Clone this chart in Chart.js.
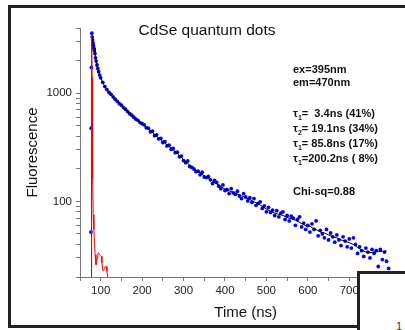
<!DOCTYPE html>
<html><head><meta charset="utf-8">
<script src="https://cdn.jsdelivr.net/npm/chart.js@4.4.1/dist/chart.umd.min.js"></script>
<style>
html,body{margin:0;padding:0;background:#fff;}
#wrap{position:relative;width:405px;height:330px;overflow:hidden;background:#fff;font-family:'Liberation Sans',Arial,sans-serif;}
#frame{position:absolute;left:8px;top:5px;width:500px;height:317px;border:3px solid #222;}
#chart{position:absolute;left:0;top:0;}
.t{position:absolute;white-space:pre;color:#111;}
#title{left:0;width:414px;top:21px;text-align:center;font-size:15.5px;line-height:18px;}
.ann{left:293px;font-size:11px;font-weight:bold;line-height:13px;}
.ann sub{font-size:7px;line-height:0;vertical-align:-3px;}
#box{position:absolute;left:357px;top:271px;width:100px;height:100px;border-left:3px solid #222;border-top:3px solid #222;background:#fff;}
#one{left:396px;top:320px;font-size:11px;color:#333;}
</style></head>
<body>
<div id="wrap">
  <div id="frame"></div>
  <canvas id="chart" width="440" height="330"></canvas>
  <div class="t" id="title">CdSe quantum dots</div>
  <div class="t ann" style="top:63px">ex=395nm</div>
  <div class="t ann" style="top:76px">em=470nm</div>
  <div class="t ann" style="top:107px">τ<sub>1</sub>=  3.4ns (41%)</div>
  <div class="t ann" style="top:122px">τ<sub>2</sub>= 19.1ns (34%)</div>
  <div class="t ann" style="top:137px">τ<sub>1</sub>= 85.8ns (17%)</div>
  <div class="t ann" style="top:152px">τ<sub>1</sub>=200.2ns ( 8%)</div>
  <div class="t ann" style="top:185px">Chi-sq=0.88</div>
  <div id="box"></div>
  <div class="t" id="one">1</div>
</div>
<script>
const blueTime = [76.5, 77, 77.5, 78.5, 79.5, 80.5, 81.5, 82.5, 83.5, 84.5, 86, 87.5, 89, 91, 93, 95, 97.5, 100,
  105, 110, 115, 120, 125, 130, 135, 140, 145, 150, 155, 160, 165, 170, 175, 180, 185, 190, 195, 200,
  205, 210, 215, 220, 225, 230, 235, 240, 245, 250, 255, 260, 265, 270, 275, 280, 285, 290, 295, 300,
  305, 310, 315, 320, 325, 330, 335, 340, 345, 350, 355, 360, 365, 370, 375, 380, 385, 390, 395, 400,
  405, 410, 415, 420, 425, 430, 435, 440, 445, 450, 455, 460, 465, 470, 475, 480, 485, 490, 495, 500,
  505, 510, 515, 520, 525, 530, 535, 540, 545, 550, 555, 560, 565, 570, 575, 580, 585, 590, 595, 600,
  605, 610, 615, 620, 625, 630, 635, 640, 645, 650, 655, 660, 665, 670, 675, 680, 685, 690, 695, 700,
  705, 710, 715, 720, 725, 730, 735, 740, 745, 750, 755, 760, 765, 770, 775, 780, 785, 790, 795];
const blueCounts = [52, 475, 1730, 3580, 3300, 3100, 2900, 2750, 2600, 2480, 2320, 2120, 1980, 1820, 1690, 1580, 1470, 1385,
  1260, 1150, 1080, 1015, 975, 925, 880, 840, 800, 775, 735, 710, 675, 645, 625, 600, 575, 560, 535, 522,
  510, 478, 475, 440, 445, 405, 412, 378, 382, 350, 356, 325, 330, 303, 308, 282, 285, 258, 262, 238,
  228, 236, 210, 206, 199, 188, 190, 176, 186, 168, 166, 170, 158, 146, 156, 150, 138, 131, 142, 126,
  128, 118, 131, 120, 116, 124, 112, 106, 118, 110, 101, 108, 98, 106, 92, 96, 99, 86, 91, 80,
  88, 79, 83, 74, 82, 72, 78, 80, 68, 74, 66, 73, 70, 60, 68, 72, 58, 63, 55, 60,
  52, 62, 55, 66, 48, 54, 50, 46, 55, 44, 51, 47, 42, 49, 44, 39, 47, 43, 38, 45,
  37, 46, 40, 33, 38, 35, 31, 37, 34, 30, 36, 33, 35, 25, 36, 29, 34, 28, 24];

const fitTime = [77.2, 77.6, 78, 79, 80, 82, 84, 86, 88, 90, 93, 96, 100, 105, 110, 115, 120, 126, 132, 140,
  150, 160, 170, 180, 190, 200, 210, 220, 230, 240, 250, 260, 270, 280, 290, 300, 310, 320, 330, 340,
  350, 360, 370, 380, 390, 400, 410, 420, 430, 440, 450, 460, 470, 480, 490, 500, 510, 520, 530, 540,
  550, 560, 570, 580, 590, 600, 605, 610, 615, 620, 630, 640, 650, 660, 670, 680, 690, 700, 710, 720,
  730, 740, 750, 760, 770, 780, 790];
const fitCounts = [10, 1500, 3450, 3350, 3150, 2850, 2600, 2350, 2100, 1900, 1680, 1530, 1380, 1250, 1150, 1075, 1010, 950, 900, 835,
  770, 705, 645, 598, 558, 520, 485, 450, 415, 385, 358, 333, 310, 288, 265, 243, 224, 207, 194, 183,
  172, 163, 154, 145, 137, 130, 125, 121, 117, 113, 108, 104, 99, 95, 90, 85, 81, 78, 76, 74,
  71, 69, 67, 64, 61, 58, 59, 57, 56, 55, 52, 51, 49, 47, 46, 44, 43, 41.5, 40, 37.5,
  35.5, 34, 33.5, 34, 34.5, 34.5, 34.8];

const irfTime = [76.8, 77.6, 78.4, 79.2, 80, 81, 82, 83.5, 85, 86.5, 88.5, 90, 91.5, 93, 95, 97, 99, 101.5, 103, 105,
  107, 109, 111, 113, 115, 117, 119, 121];
const irfCounts = [10, 3300, 3400, 1400, 400, 160, 75, 55, 42, 32, 26, 27, 30, 33, 33.5, 32, 31.5, 31, 27, 23,
  22.8, 24, 25, 25, 22.5, 20, 18.5, 16];

const xLabelTicks = [100, 200, 300, 400, 500, 600, 700, 800];
const yTickValues = [20, 30, 40, 50, 60, 70, 80, 90, 100, 200, 300, 400, 500, 600, 700, 800, 900, 1000, 2000, 3000, 4000];
const yLabelTicks = [100, 1000];

const pts = (xs, ys) => xs.map((x, i) => ({x: x, y: ys[i]}));
const FONT = "'Liberation Sans', Arial, sans-serif";

new Chart(document.getElementById('chart'), {
  type: 'scatter',
  data: {
    datasets: [
      {label: 'IRF', data: pts(irfTime, irfCounts), showLine: true, pointRadius: 0, borderColor: '#ff0000', borderWidth: 1, order: 0},
      {label: 'Fit', data: pts(fitTime, fitCounts), showLine: true, pointRadius: 0, borderColor: '#000000', borderWidth: 1, order: 1},
      {label: 'Data', data: pts(blueTime, blueCounts), showLine: false, pointRadius: 1.9, pointBorderWidth: 0, backgroundColor: '#0000ff', borderColor: '#0000ff', order: 2}
    ]
  },
  options: {
    responsive: false,
    animation: false,
    layout: {padding: {left: 0, top: 28, right: 28.6, bottom: 0}},
    plugins: {legend: {display: false}, tooltip: {enabled: false}, title: {display: false}},
    scales: {
      x: {
        type: 'linear', min: 50, max: 850,
        afterFit: (s) => { s.height = 53; },
        ticks: {stepSize: 50, autoSkip: false, maxRotation: 0, padding: 3, color: '#222',
          font: {family: FONT, size: 11.5},
          callback: (v) => xLabelTicks.includes(v) ? String(v) : ''},
        grid: {display: true, drawOnChartArea: false, drawTicks: true, tickLength: 4, tickColor: '#777'},
        border: {display: true, color: '#777', width: 1},
        title: {display: true, text: 'Time (ns)', color: '#111', font: {family: FONT, size: 15}, padding: {top: 0, bottom: 8}}
      },
      y: {
        type: 'logarithmic', min: 20, max: 4000,
        afterFit: (s) => { s.width = 80; },
        afterBuildTicks: (s) => { s.ticks = yTickValues.map(v => ({value: v})); },
        ticks: {autoSkip: false, padding: 4, color: '#222', font: {family: FONT, size: 11.5},
          callback: (v) => yLabelTicks.includes(v) ? String(v) : ''},
        grid: {display: true, drawOnChartArea: false, drawTicks: true, tickLength: 4, tickColor: '#777'},
        border: {display: true, color: '#777', width: 1},
        title: {display: true, text: 'Fluorescence', color: '#111', font: {family: FONT, size: 15}, padding: {top: 24, bottom: 0}}
      }
    }
  }
});
</script>
</body></html>
